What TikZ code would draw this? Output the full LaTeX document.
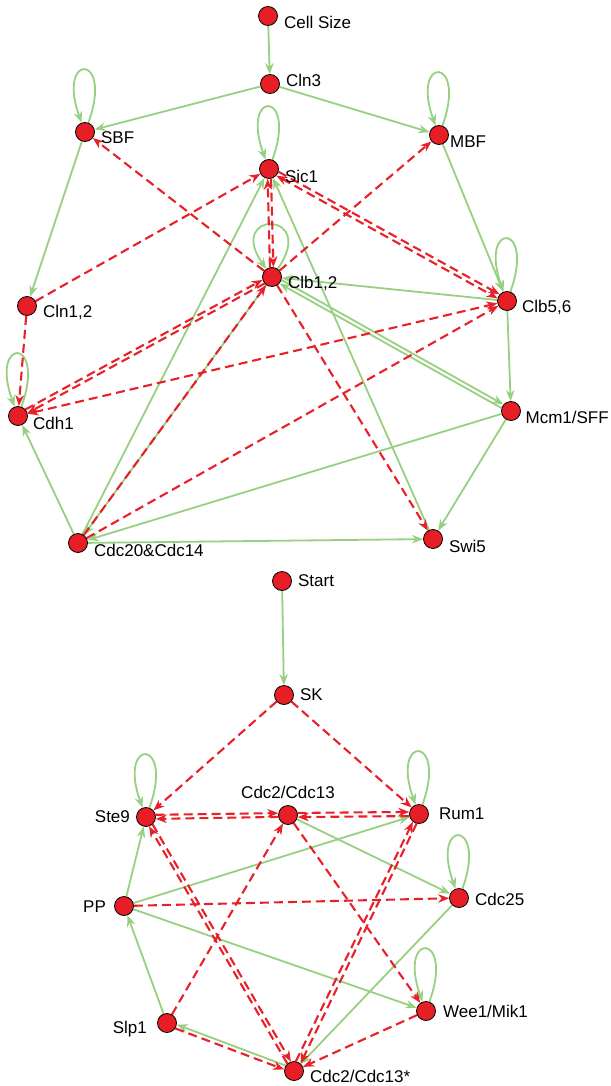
\documentclass[tikz,border=0pt]{standalone}
\usepackage{fontspec}
\setmainfont{Liberation Sans}
\usepackage{xcolor}
\usepackage{tikz}
\usetikzlibrary{arrows.meta,backgrounds}

\definecolor{actgreen}{RGB}{152,208,130}
\definecolor{inhred}{RGB}{232,32,40}
\definecolor{genered}{RGB}{232,30,38}

\begin{document}
\begin{tikzpicture}[
        x=1pt, y=1pt,
        >={Stealth[length=11pt,width=8.5pt,inset=3.5pt]},
        gene/.style={circle,draw=black,line width=0.8pt,fill=genered,minimum size=19pt,inner sep=0pt},
        every label/.style={font=\fontsize{17}{20}\selectfont,inner sep=0pt},
        label distance=6pt,
        act/.style={->,actgreen,line width=1.8pt},
        inh/.style={->,inhred,line width=2.1pt,dash pattern=on 9pt off 5pt},
        selfloop/.style={act,out=70,in=110,distance=75pt}
    ]
    \useasboundingbox (0,0) rectangle (610,-1086);

    % budding yeast
    \node[gene,label={[yshift=-6pt]right:Cell Size}] (size) at (268,-16) {};
    \node[gene,label={[yshift=4pt]right:Cln3}] (cln3) at (270,-84) {};
    \node[gene,label={[yshift=-6pt]right:SBF}] (sbf) at (85,-132) {};
    \node[gene,label={[yshift=-7pt,xshift=-5pt]right:MBF}] (mbf) at (439,-135) {};
    \node[gene,label={[yshift=-7pt]right:Sic1}] (sic1) at (269,-169) {};
    \node[gene,label={[yshift=-6pt]right:Clb1,2}] (clb12) at (272,-277) {};
    \node[gene,label={[yshift=-6pt]right:Cln1,2}] (cln12) at (27,-306) {};
    \node[gene,label={[yshift=-6pt,xshift=-1pt]right:Clb5,6}] (clb56) at (507,-301) {};
    \node[gene,label={[yshift=-7pt,xshift=-1pt]right:Cdh1}] (cdh1) at (18,-416) {};
    \node[gene,label={[yshift=-6pt,xshift=-1.5pt]right:Mcm1/SFF}] (mcm1) at (511,-411) {};
    \node[gene,label={[yshift=-7pt]right:Cdc20\&Cdc14}] (cdc20) at (78,-543) {};
    \node[gene,label={[yshift=-7pt]right:Swi5}] (swi5) at (433,-539) {};

    % fission yeast
    \node[gene,label={right:Start}] (start) at (282,-581) {};
    \node[gene,label={right:SK}] (sk) at (284,-695) {};
    \node[gene,label={above:Cdc2/Cdc13}] (cdc2) at (288,-815) {};
    \node[gene,label={left:Ste9}] (ste9) at (146,-817) {};
    \node[gene,label={[xshift=4pt]right:Rum1}] (rum1) at (419,-814) {};
    \node[gene,label={[yshift=-1pt]right:Cdc25}] (cdc25) at (459,-898) {};
    \node[gene,label={[yshift=-1pt,xshift=-2pt]left:PP}] (pp) at (124,-906) {};
    \node[gene,label={[xshift=1pt]right:Wee1/Mik1}] (wee1) at (426,-1011) {};
    \node[gene,label={[yshift=-6pt,xshift=-4pt]left:Slp1}] (slp1) at (167,-1023) {};
    \node[gene,label={[yshift=-5pt]right:Cdc2/Cdc13*}] (cdc2s) at (294,-1071) {};

    \begin{scope}[on background layer]
        \draw[act] (size) -- (cln3);
        \draw[act] (cln3) -- (sbf);
        \draw[act] (cln3) -- (mbf);
        \draw[act] (sbf) -- (cln12);
        \draw[act] (mbf) -- (clb56);
        \draw[act] (clb56) -- (mcm1);
        \draw[act] (clb56) -- (clb12);
        \draw[act] (clb12.-17) -- (mcm1.139);
        \draw[act] (mcm1.163) -- (clb12.-41);
        \draw[act] (mcm1) -- (swi5);
        \draw[act] (mcm1) -- (cdc20);
        \draw[act] (clb12) -- (cdc20);
        \draw[act] (cdc20) -- (swi5);
        \draw[act] (cdc20) -- (cdh1);
        \draw[act] (cdc20) -- (sic1);
        \draw[act] (swi5) -- (sic1);
        \foreach \g in {sbf,mbf,sic1,clb56,cdh1}
            \draw[selfloop] (\g) to (\g);
        \draw[selfloop,out=55,in=125,distance=72pt] (clb12) to (clb12);

        \draw[inh] (clb12) -- (sbf);
        \draw[inh] (clb12) -- (mbf);
        \draw[inh] (clb12) -- (swi5);
        \draw[inh] (cln12) -- (sic1);
        \draw[inh] (cln12) -- (cdh1);
        \draw[inh] (sic1.-78) -- (clb12.82);
        \draw[inh] (clb12.102) -- (sic1.-98);
        \draw[inh] (sic1.-16) -- (clb56.138);
        \draw[inh,<->] (sic1.-42) -- (clb56.164);
        \draw[inh] (cdh1.41) -- (clb12.197);
        \draw[inh] (clb12.221) -- (cdh1.17);
        \draw[inh,<->] (cdh1) -- (clb56);
        \draw[inh] (cdc20) -- (clb12);
        \draw[inh] (cdc20) -- (clb56);

        \draw[act] (start) -- (sk);
        \draw[act] (cdc2) -- (cdc25);
        \draw[act] (pp) -- (ste9);
        \draw[act] (pp) -- (rum1);
        \draw[act] (pp) -- (wee1);
        \draw[act] (slp1) -- (pp);
        \draw[act] (cdc2s.147) -- (slp1.-9);
        \draw[act] (cdc25) -- (cdc2s);
        \foreach \g in {ste9,rum1,cdc25,wee1}
            \draw[selfloop] (\g) to (\g);

        \draw[inh] (sk) -- (ste9);
        \draw[inh] (sk) -- (rum1);
        \draw[inh] (ste9.13) -- (cdc2.169);
        \draw[inh] (cdc2.191) -- (ste9.-11);
        \draw[inh] (cdc2.12) -- (rum1.168);
        \draw[inh] (rum1.192) -- (cdc2.-12);
        \draw[inh] (ste9.-48) -- (cdc2s.108);
        \draw[inh] (cdc2s.132) -- (ste9.-72);
        \draw[inh] (rum1.-104) -- (cdc2s.49);
        \draw[inh] (cdc2s.79) -- (rum1.-128);
        \draw[inh] (cdc2) -- (wee1);
        \draw[inh] (pp) -- (cdc25);
        \draw[inh] (slp1) -- (cdc2);
        \draw[inh] (slp1.-33) -- (cdc2s.171);
        \draw[inh] (wee1) -- (cdc2s);
    \end{scope}
\end{tikzpicture}
\end{document}
